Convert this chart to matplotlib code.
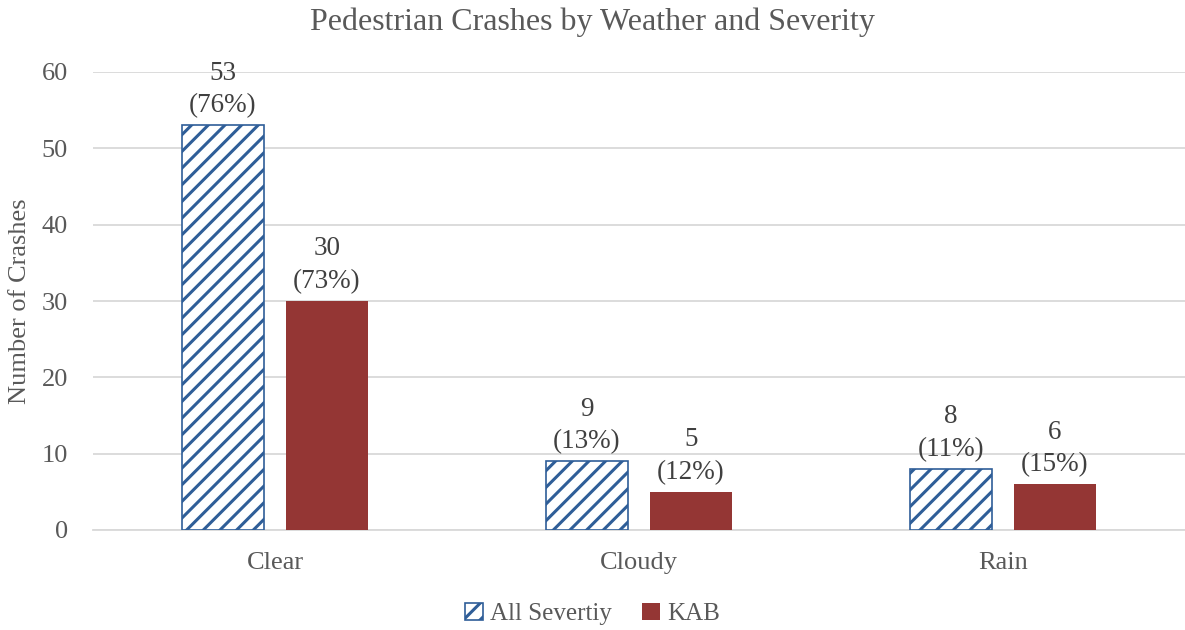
import matplotlib
matplotlib.use("Agg")
import matplotlib.pyplot as plt
import numpy as np

categories = ["Clear", "Cloudy", "Rain"]
all_severity = [53, 9, 8]
all_pct = ["76%", "13%", "11%"]
kab = [30, 5, 6]
kab_pct = ["73%", "12%", "15%"]
series_names = ["All Severtiy", "KAB"]

plt.rcParams['font.family'] = ['Liberation Serif', 'DejaVu Serif']
plt.rcParams['hatch.linewidth'] = 2.2
plt.rcParams['hatch.color'] = '#2F5E98'

grey = '#595959'
blue = '#2F5E98'
red = '#943634'

fig = plt.figure(figsize=(11.85, 6.3), dpi=100)
ax = fig.add_axes([93/1185, 1-530/630, (1185-93)/1185, (530-72)/630])

x = np.arange(len(categories))
w = 0.225
off = 0.143
b1 = ax.bar(x - off, all_severity, w, facecolor='white', edgecolor=blue, hatch='//', linewidth=1.2,
            label=series_names[0], zorder=3)
b2 = ax.bar(x + off, kab, w, color=red, label=series_names[1], zorder=3)

for xi, v, p in zip(x - off, all_severity, all_pct):
    ax.annotate(f"{v}\n({p})", (xi, v), xytext=(0, 5), textcoords='offset points',
                ha='center', va='bottom', fontsize=19.5, color='#404040', linespacing=1.4)
for xi, v, p in zip(x + off, kab, kab_pct):
    ax.annotate(f"{v}\n({p})", (xi, v), xytext=(0, 5), textcoords='offset points',
                ha='center', va='bottom', fontsize=19.5, color='#404040', linespacing=1.4)

ax.set_xlim(-0.5, 2.5)
ax.set_ylim(0, 60)
ax.set_yticks(range(0, 61, 10))
ax.set_xticks(x)
ax.set_xticklabels(categories)
ax.tick_params(axis='both', length=0, labelsize=19, labelcolor=grey)
ax.tick_params(axis='x', pad=16)
ax.tick_params(axis='y', pad=18)
ax.yaxis.grid(True, color='#D9D9D9', linewidth=1.3, zorder=0)
for s in ['top', 'right', 'left']:
    ax.spines[s].set_visible(False)
ax.spines['bottom'].set_color('#D9D9D9')
ax.spines['bottom'].set_linewidth(1.3)

ax.set_ylabel("Number of Crashes", fontsize=19, color=grey, labelpad=8)
fig.text(0.5, 1-22/630, "Pedestrian Crashes by Weather and Severity", ha='center', va='center',
         fontsize=23, color=grey)

leg = fig.legend(handles=[b1, b2], loc='center', bbox_to_anchor=(0.5, 1-614/630), ncol=2,
                 frameon=False, fontsize=18, handlelength=0.7, handleheight=0.7,
                 handletextpad=0.3, columnspacing=1.2)
for t in leg.get_texts():
    t.set_color(grey)

fig.savefig("out.png", dpi=100)
